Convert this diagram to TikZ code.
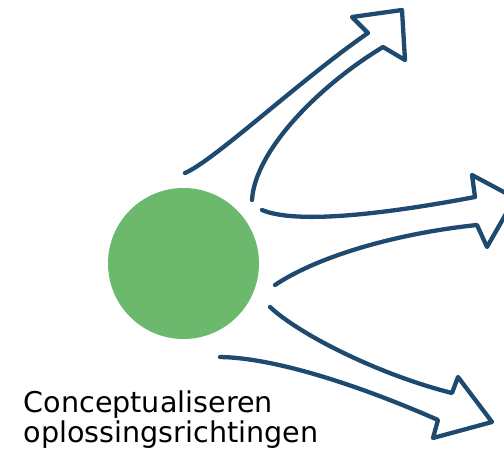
\documentclass[tikz,border=0pt]{standalone}
\usepackage{fontspec}
\setmainfont{DejaVu Sans}
\definecolor{arrowblue}{RGB}{31,74,112}
\definecolor{ideagreen}{RGB}{108,185,109}
\tikzset{sketch arrow/.style={
    	draw=arrowblue,
    	line width=4.3pt,
    	line cap=round,
    	line join=round
  	}
}

\begin{document}
\begin{tikzpicture}[x=1pt, y=-1pt]
		\useasboundingbox (0,0) rectangle (504,458);
		\clip (0,0) rectangle (504,458);
		\node [circle, fill=ideagreen, minimum size=151pt, inner sep=0pt] (idea) at (183.5,263.5) {};
		\node [anchor=north west, align=left, inner sep=0pt, font=\fontsize{28.6}{29.5}\selectfont] (label) at (23.5,391) {Conceptualiseren\\oplossingsrichtingen};
		% upward arrow
		\draw [sketch arrow] (185,173) .. controls (215,160) and (300,80) .. (368,33)
			-- (352,17) -- (402,10) -- (405,60) -- (383,47)
			.. controls (320,85) and (255,150) .. (252,200);
		% straight arrow
		\draw [sketch arrow] (262,210) .. controls (295,224) and (380,215) .. (475,197)
			-- (472,175) -- (515,198) -- (487,247) -- (477,225)
			.. controls (400,233) and (320,255) .. (275,285);
		% downward arrow
		\draw [sketch arrow] (270,307) .. controls (300,335) and (380,375) .. (452,393)
			-- (458,377) -- (492,422) -- (433,438) -- (438,420)
			.. controls (370,390) and (280,358) .. (220,357);
	\end{tikzpicture}
\end{document}
